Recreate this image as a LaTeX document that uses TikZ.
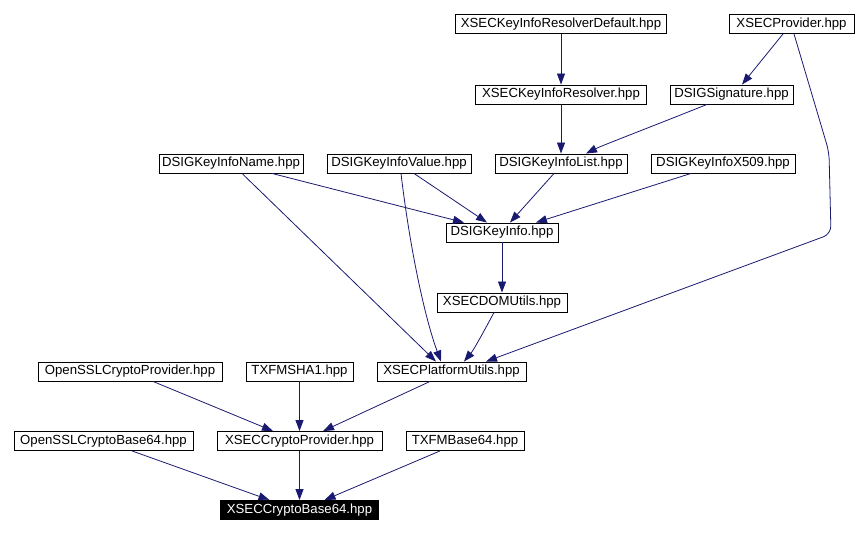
\documentclass[tikz,border=0pt]{standalone}
\usepackage{fontspec}
\setmainfont{Liberation Sans}
\usetikzlibrary{arrows.meta}
\definecolor{edgeblue}{HTML}{191970}
\begin{document}
\begin{tikzpicture}[x=1pt,y=1pt,
  box/.style={draw=black, line width=0.9pt, fill=white, inner sep=0pt, minimum height=19pt, font=\fontsize{13.2}{15}\selectfont, text=black},
  mainbox/.style={box, fill=black, text=white},
  edge/.style={draw=edgeblue, line width=0.8pt, -{Triangle[length=11pt,width=8pt]}}]
\useasboundingbox (0,0) rectangle (868,-534);
% nodes
\node[box, minimum width=211pt] (resdef) at (561,-24) {XSECKeyInfoResolverDefault.hpp};
\node[box, minimum width=125pt] (prov) at (791.5,-24) {XSECProvider.hpp};
\node[box, minimum width=171pt] (res) at (561,-94.5) {XSECKeyInfoResolver.hpp};
\node[box, minimum width=123pt] (sig) at (731.5,-94.5) {DSIGSignature.hpp};
\node[box, minimum width=144pt] (kname) at (231,-163.5) {DSIGKeyInfoName.hpp};
\node[box, minimum width=144pt] (kvalue) at (399,-163.5) {DSIGKeyInfoValue.hpp};
\node[box, minimum width=132pt] (klist) at (561,-163.5) {DSIGKeyInfoList.hpp};
\node[box, minimum width=144pt] (kx509) at (723,-163.5) {DSIGKeyInfoX509.hpp};
\node[box, minimum width=112pt] (kinfo) at (502,-232.5) {DSIGKeyInfo.hpp};
\node[box, minimum width=130pt] (dom) at (502,-302.5) {XSECDOMUtils.hpp};
\node[box, minimum width=184pt] (osslprov) at (130,-371.5) {OpenSSLCryptoProvider.hpp};
\node[box, minimum width=107pt] (sha1) at (299.5,-371.5) {TXFMSHA1.hpp};
\node[box, minimum width=149pt] (plat) at (451.5,-371.5) {XSECPlatformUtils.hpp};
\node[box, minimum width=179pt] (osslb64) at (103.5,-441) {OpenSSLCryptoBase64.hpp};
\node[box, minimum width=165pt] (cprov) at (299.5,-441) {XSECCryptoProvider.hpp};
\node[box, minimum width=118pt] (tb64) at (465,-441) {TXFMBase64.hpp};
\node[mainbox, minimum width=158pt] (cb64) at (299.5,-510) {XSECCryptoBase64.hpp};
% waypoints
\coordinate (w1) at (829,-152);
\coordinate (w2) at (831,-234);
% edges
\draw[edge] (resdef.south) -- (res.north);
\draw[edge] ([xshift=-8.5pt]prov.south) -- ([xshift=10.5pt]sig.north);
\draw[edge, rounded corners=8pt] ([xshift=2.5pt]prov.south) -- (w1) -- (w2) -- ([xshift=34.5pt]plat.north);
\draw[edge] (res.south) -- (klist.north);
\draw[edge] ([xshift=-24.5pt]sig.south) .. controls +(-60,-24) and +(16,8) .. ([xshift=25pt]klist.north);
\draw[edge] ([xshift=41pt]kname.south) -- ([xshift=-38pt]kinfo.north);
\draw[edge] ([xshift=11pt]kname.south) -- ([xshift=-15.5pt]plat.north);
\draw[edge] ([xshift=15pt]kvalue.south) -- ([xshift=-15pt]kinfo.north);
\draw[edge] ([xshift=2pt]kvalue.south) .. controls +(9,-76) and +(-16,43) .. ([xshift=-10.5pt]plat.north);
\draw[edge] ([xshift=-7pt]klist.south) -- ([xshift=8pt]kinfo.north);
\draw[edge] ([xshift=-32pt]kx509.south) -- ([xshift=34pt]kinfo.north);
\draw[edge] (kinfo.south) -- (dom.north);
\draw[edge] ([xshift=-8pt]dom.south) .. controls +(-8,-15) and +(10,12) .. ([xshift=12.5pt]plat.north);
\draw[edge] ([xshift=23pt]osslprov.south) -- ([xshift=-26.5pt]cprov.north);
\draw[edge] (sha1.south) -- (cprov.north);
\draw[edge] ([xshift=-21.5pt]plat.south) -- ([xshift=23.5pt]cprov.north);
\draw[edge] ([xshift=28.5pt]osslb64.south) -- ([xshift=-30pt]cb64.north);
\draw[edge] (cprov.south) -- (cb64.north);
\draw[edge] ([xshift=-25pt]tb64.south) -- ([xshift=25pt]cb64.north);
\end{tikzpicture}
\end{document}
